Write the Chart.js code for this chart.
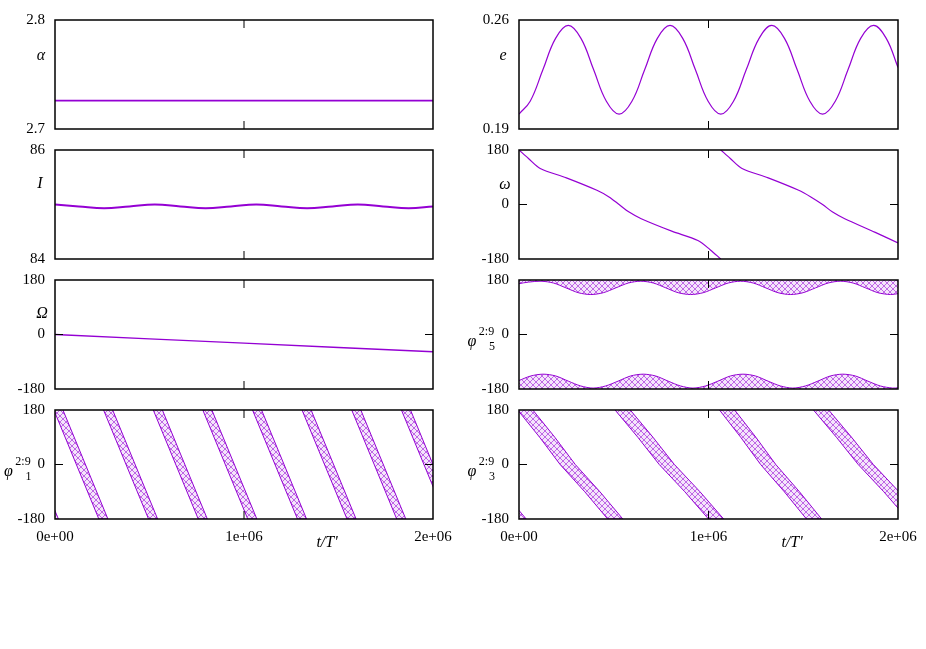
<!DOCTYPE html>
<html>
<head>
<meta charset="utf-8">
<script src="https://cdn.jsdelivr.net/npm/chart.js@4.4.1/dist/chart.umd.min.js"></script>
<style>
  body { margin: 0; background: #fff; width: 926px; height: 649px; position: relative; overflow: hidden; font-family: "Liberation Serif", "Times New Roman", serif; }
  canvas.panel { position: absolute; }
  .lbl { position: absolute; transform: translate(-50%, -50%); white-space: nowrap; color: #000; line-height: 1; }
  .it { font-style: italic; font-size: 16px; }
  .sm { font-size: 12px; }
</style>
</head>
<body>
<script>
// ---- data ----
const xTicks = [0, 1e6, 2e6];
const xTickLabels = ['0e+00', '1e+06', '2e+06'];
const alphaTicks = [2.7, 2.8];
const eTicks = [0.19, 0.26];
const incTicks = [84, 86];
const angleTicks = [-180, 0, 180];

// alpha (semi-major axis)
const alphaT = [0, 500e3, 1000e3, 1500e3, 2000e3];
const alphaV = [2.726, 2.726, 2.726, 2.726, 2.726];

// eccentricity
const eT = [0, 59e3, 126e3, 193e3, 260e3, 327e3, 394e3, 461e3, 528e3, 596e3, 663e3, 730e3, 797e3, 864e3, 931e3,
            998e3, 1065e3, 1132e3, 1199e3, 1267e3, 1334e3, 1401e3, 1468e3, 1535e3, 1602e3, 1669e3, 1736e3, 1803e3, 1871e3, 1938e3, 2000e3];
const eV = [0.1996, 0.2078, 0.228, 0.2482, 0.2565, 0.2482, 0.228, 0.2078, 0.1995, 0.2078, 0.228, 0.2482, 0.2565, 0.2482, 0.228,
            0.2078, 0.1995, 0.2078, 0.228, 0.2482, 0.2565, 0.2482, 0.228, 0.2078, 0.1995, 0.2078, 0.228, 0.2482, 0.2565, 0.2482, 0.2295];

// inclination
const incT = [0, 126e3, 260e3, 394e3, 528e3, 663e3, 797e3, 931e3, 1065e3, 1199e3, 1334e3, 1468e3, 1602e3, 1736e3, 1871e3, 2000e3];
const incV = [85.0, 84.965, 84.93, 84.965, 85.0, 84.965, 84.93, 84.965, 85.0, 84.965, 84.93, 84.965, 85.0, 84.965, 84.93, 84.963];

// argument of pericentre (null = wrap from -180 to 180)
const omegaT = [0, 50e3, 112e3, 250e3, 411e3, 475e3, 528e3, 581e3, 645e3, 806e3, 944e3, 1010e3, 1065e3,
                1065e3, 1065e3, 1115e3, 1177e3, 1315e3, 1476e3, 1540e3, 1602e3, 1655e3, 1719e3, 1880e3, 2000e3];
const omegaV = [180, 152, 119, 88, 47, 25, 0, -25, -47, -88, -119, -150, -180,
                null, 180, 152, 119, 88, 47, 25, 0, -25, -47, -92, -127];

// longitude of node
const nodeT = [0, 500e3, 1000e3, 1500e3, 2000e3];
const nodeV = [0, -14.3, -28.5, -42.8, -57];

// resonant angle phi5: edge of the band hanging from +180, edge of the band resting on -180
const phi5TopT = [0, 50e3, 116e3, 182e3, 248e3, 313e3, 379e3, 445e3, 511e3, 577e3, 643e3, 709e3, 775e3, 840e3, 906e3, 972e3,
                  1038e3, 1104e3, 1170e3, 1236e3, 1302e3, 1367e3, 1433e3, 1499e3, 1565e3, 1631e3, 1697e3, 1763e3, 1829e3, 1894e3, 1960e3, 2000e3];
const phi5TopV = [168, 173, 176, 170, 154, 138, 132, 138, 154, 170, 176, 170, 154, 138, 132, 138,
                  154, 170, 176, 170, 154, 138, 132, 138, 154, 170, 176, 170, 154, 138, 132, 135];
const phi5BotT = [0, 62e3, 128e3, 194e3, 260e3, 326e3, 391e3, 457e3, 523e3, 589e3, 655e3, 721e3, 787e3, 853e3, 918e3, 984e3,
                  1050e3, 1116e3, 1182e3, 1248e3, 1314e3, 1380e3, 1445e3, 1511e3, 1577e3, 1643e3, 1709e3, 1775e3, 1841e3, 1907e3, 1972e3, 2000e3];
const phi5BotV = [-152, -137, -131, -137, -154, -170, -177, -170, -154, -137, -131, -137, -154, -170, -177, -170,
                  -154, -137, -131, -137, -154, -170, -177, -170, -154, -137, -131, -137, -154, -170, -177, -176];

// resonant angle phi1: band centre times where it leaves +180 and reaches -180
const phi1Top = [-244e3, 18e3, 281e3, 544e3, 806e3, 1069e3, 1331e3, 1594e3, 1857e3];
const phi1Bot = [-6e3, 256e3, 519e3, 782e3, 1044e3, 1307e3, 1569e3, 1832e3, 2095e3];
const phi1Half = 24e3;

// resonant angle phi3: band centre times at the levels below
const phi3Levels = [180, 90, 0, -90, -180];
const phi3Bands = [
  [-477e3, -355e3, -253e3, -123e3, -2e3],
  [33e3, 149e3, 257e3, 387e3, 508e3],
  [547e3, 667e3, 780e3, 915e3, 1040e3],
  [1098e3, 1210e3, 1315e3, 1440e3, 1557e3],
  [1594e3, 1715e3, 1830e3, 1965e3, 2090e3]
];
const phi3Half = 40e3;

// ---- drawing ----
const PURPLE = '#9400d3';
Chart.defaults.font.family = '"Liberation Serif", "Times New Roman", serif';
Chart.defaults.color = '#000';

const colsX = [[55, 433], [519, 898]];
const rowsY = [[20, 129], [150, 259], [280, 389], [410, 519]];

const pts = (ts, vs) => ts.map((t, i) => ({ x: t, y: vs[i] }));

function meshPattern() {
  const c = document.createElement('canvas');
  c.width = 6; c.height = 6;
  const g = c.getContext('2d');
  g.fillStyle = 'rgba(148,0,211,0.10)';
  g.fillRect(0, 0, 6, 6);
  g.strokeStyle = 'rgba(148,0,211,0.55)';
  g.lineWidth = 1;
  g.beginPath();
  g.moveTo(0, 6); g.lineTo(6, 0);
  g.moveTo(0, 0); g.lineTo(6, 6);
  g.stroke();
  return g.createPattern(c, 'repeat');
}
const mesh = meshPattern();

function bandPoly(centres, levels, half) {
  const left = centres.map((c, i) => ({ x: c - half, y: levels[i] }));
  const right = centres.map((c, i) => ({ x: c + half, y: levels[i] })).reverse();
  return left.concat(right);
}

function lineSet(data, width, tension) {
  return { data, borderColor: PURPLE, borderWidth: width, showLine: true, pointRadius: 0, tension: tension || 0, fill: false, spanGaps: false };
}
function bandSet(data, fill, tension) {
  return { data, borderColor: PURPLE, borderWidth: 1, backgroundColor: mesh, showLine: true, pointRadius: 0, tension: tension || 0, fill };
}

// frame + inward ticks, gnuplot style
const framePlugin = {
  id: 'frame',
  afterDatasetsDraw(chart) {
    const { ctx, chartArea: a, scales: { x, y } } = chart;
    ctx.save();
    ctx.strokeStyle = '#000';
    ctx.lineWidth = 1;
    ctx.beginPath();
    y.ticks.forEach(t => {
      const py = y.getPixelForValue(t.value);
      if (py > a.top + 1 && py < a.bottom - 1) {
        ctx.moveTo(a.left, py); ctx.lineTo(a.left + 8, py);
        ctx.moveTo(a.right, py); ctx.lineTo(a.right - 8, py);
      }
    });
    xTicks.filter(v => v > 0 && v < 2e6).forEach(v => {
      const px = x.getPixelForValue(v);
      ctx.moveTo(px, a.bottom); ctx.lineTo(px, a.bottom - 8);
      ctx.moveTo(px, a.top); ctx.lineTo(px, a.top + 8);
    });
    ctx.stroke();
    ctx.lineWidth = 1.5;
    ctx.strokeRect(a.left, a.top, a.right - a.left, a.bottom - a.top);
    ctx.restore();
  }
};

function makePanel(col, row, yMin, yMax, yTicks, datasets) {
  const [L, R] = colsX[col];
  const [T, B] = rowsY[row];
  const last = row === 3;
  const cv = document.createElement('canvas');
  cv.className = 'panel';
  cv.width = (R - L) + 55 + 30;
  cv.height = (B - T) + 12 + (last ? 40 : 12);
  cv.style.left = (L - 55) + 'px';
  cv.style.top = (T - 12) + 'px';
  document.body.appendChild(cv);
  new Chart(cv, {
    type: 'scatter',
    data: { datasets },
    options: {
      responsive: false,
      animation: false,
      events: [],
      layout: { padding: { top: 12, right: 30, bottom: last ? 0 : 12, left: 0 } },
      plugins: { legend: { display: false }, tooltip: { enabled: false } },
      scales: {
        x: {
          type: 'linear', min: 0, max: 2e6, display: last,
          grid: { display: false, drawTicks: false }, border: { display: false },
          afterBuildTicks: s => { s.ticks = xTicks.map(v => ({ value: v })); },
          afterFit: s => { s.height = last ? 40 : 0; s.paddingLeft = 0; s.paddingRight = 0; },
          ticks: { autoSkip: false, maxRotation: 0, padding: 9, font: { size: 15 }, color: '#000',
                   callback: (v, i) => xTickLabels[i] }
        },
        y: {
          type: 'linear', min: yMin, max: yMax,
          grid: { display: false, drawTicks: false }, border: { display: false },
          afterBuildTicks: s => { s.ticks = yTicks.map(v => ({ value: v })); },
          afterFit: s => { s.width = 55; s.paddingTop = 0; s.paddingBottom = 0; },
          ticks: { autoSkip: false, padding: 10, font: { size: 15 }, color: '#000', callback: v => String(v) }
        }
      }
    },
    plugins: [framePlugin]
  });
}

makePanel(0, 0, 2.7, 2.8, alphaTicks, [lineSet(pts(alphaT, alphaV), 1.6)]);
makePanel(1, 0, 0.19, 0.26, eTicks, [lineSet(pts(eT, eV), 1.2, 0.4)]);
makePanel(0, 1, 84, 86, incTicks, [lineSet(pts(incT, incV), 2, 0.4)]);
makePanel(1, 1, -180, 180, angleTicks, [lineSet(pts(omegaT, omegaV), 1.2, 0.3)]);
makePanel(0, 2, -180, 180, angleTicks, [lineSet(pts(nodeT, nodeV), 1.4)]);
makePanel(1, 2, -180, 180, angleTicks, [
  bandSet(pts(phi5TopT, phi5TopV), 'end', 0.3),
  bandSet(pts(phi5BotT, phi5BotV), 'start', 0.3)
]);
makePanel(0, 3, -180, 180, angleTicks,
  phi1Top.map((t, i) => bandSet(bandPoly([t, phi1Bot[i]], [180, -180], phi1Half), 'shape')));
makePanel(1, 3, -180, 180, angleTicks,
  phi3Bands.map(c => bandSet(bandPoly(c, phi3Levels, phi3Half), 'shape')));

// ---- axis labels (text) ----
function label(html, x, y, cls) {
  const s = document.createElement('span');
  s.className = 'lbl ' + cls;
  s.innerHTML = html;
  s.style.left = x + 'px';
  s.style.top = y + 'px';
  document.body.appendChild(s);
}
label('α', 41, 55, 'it');
label('e', 503, 55, 'it');
label('I', 40, 183, 'it');
label('ω', 505, 184, 'it');
label('Ω', 42, 313, 'it');
[[472, 341, '5'], [8.5, 471, '1'], [472, 471, '3']].forEach(([x, y, k]) => {
  label('φ', x, y, 'it');
  label('2:9', x + 14.5, y - 10, 'sm');
  label(k, x + 20, y + 4.5, 'sm');
});
label('t/T\'', 327, 542, 'it');
label('t/T\'', 792, 542, 'it');
</script>
</body>
</html>
